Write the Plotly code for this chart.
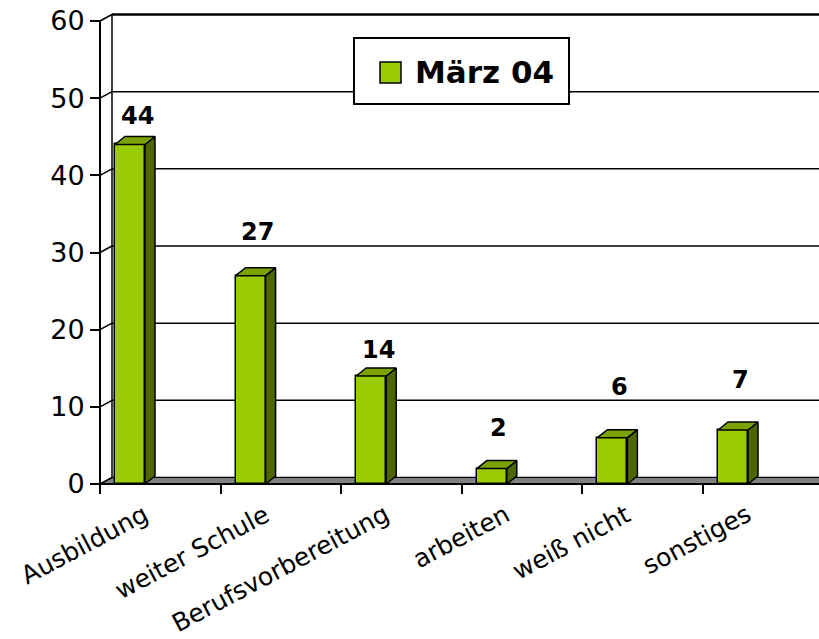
import plotly.graph_objects as go

# ---------------- data ----------------
categories = ["Ausbildung", "weiter Schule", "Berufsvorbereitung", "arbeiten", "weiß nicht", "sonstiges"]
values = [44, 27, 14, 2, 6, 7]
series_name = "März 04"
y_ticks = [0, 10, 20, 30, 40, 50, 60]

# ---------------- style ----------------
label_lift_px = [28, 44, 26, 41, 51, 50]   # data-label distance above bar top (px)
FRONT = "#99CC00"
TOP = "#7AA300"
SIDE = "#4D6600"
FLOOR = "#808080"
FONT = "DejaVu Sans"

W, H = 819, 639
L, R, T, B = 90, 0, 5, 149
plot_w = W - L - R
plot_h = H - T - B
PX_PER_CAT = 120.6
PX_PER_UNIT = 463.0 / 60.0
X0_PX = 100     # pixel of front-left corner (x = -0.5)
Y0_PX = 484     # pixel of value 0
x_range = [-0.5 - (X0_PX - L) / PX_PER_CAT, -0.5 + (W - R - X0_PX) / PX_PER_CAT]
y_range = [-(H - B - Y0_PX) / PX_PER_UNIT, (Y0_PX - T) / PX_PER_UNIT]


def ddx(px):
    return px / PX_PER_CAT


def ddy(px):
    return px / PX_PER_UNIT


def paper_x(px):
    return (px - L) / plot_w


def paper_y(py):
    return (H - B - py) / plot_h


wdx, wdy = ddx(12), ddy(6.5)    # wall depth
bdx, bdy = ddx(10), ddy(8)      # bar depth
bar_off, bar_w = ddx(15), ddx(30)

fig = go.Figure()

# front faces
fig.add_trace(go.Bar(
    x=list(range(len(categories))), y=values,
    width=bar_w, offset=bar_off - 0.5,
    marker=dict(color=FRONT, line=dict(color="black", width=1.5)),
    showlegend=False, hoverinfo="skip",
))

# side & top faces
for i, v in enumerate(values):
    xl = i - 0.5 + bar_off
    xr = xl + bar_w
    fig.add_trace(go.Scatter(
        x=[xr, xr, xr + bdx, xr + bdx, xr], y=[0, v, v + bdy, bdy, 0],
        fill="toself", fillcolor=SIDE, mode="lines",
        line=dict(color="black", width=1.5), showlegend=False, hoverinfo="skip"))
    fig.add_trace(go.Scatter(
        x=[xl, xr, xr + bdx, xl + bdx, xl], y=[v, v, v + bdy, v + bdy, v],
        fill="toself", fillcolor=TOP, mode="lines",
        line=dict(color="black", width=1.5), showlegend=False, hoverinfo="skip"))

shapes = []
xb = -0.5 + wdx
xfar = x_range[1] + 1
# back wall gridlines
for t in y_ticks:
    shapes.append(dict(type="line", xref="x", yref="y", layer="below",
                       x0=xb, x1=xfar, y0=t + wdy, y1=t + wdy,
                       line=dict(color="black", width=2.5 if t == y_ticks[-1] else 1.5)))
# floor
shapes.append(dict(type="path", xref="x", yref="y", layer="below",
                   path=f"M {-0.5},0 L {xfar},0 L {xfar + wdx},{wdy} L {xb},{wdy} Z",
                   fillcolor=FLOOR, line=dict(color="black", width=1)))
shapes.append(dict(type="line", xref="x", yref="y", layer="below",
                   x0=-0.5, x1=xfar, y0=0, y1=0, line=dict(color="black", width=2)))
# side wall diagonals
for t in y_ticks:
    shapes.append(dict(type="line", xref="x", yref="y", layer="below",
                       x0=-0.5, x1=xb, y0=t, y1=t + wdy,
                       line=dict(color="black", width=1.5)))
# back wall left edge and front value axis line
shapes.append(dict(type="line", xref="x", yref="y", layer="below",
                   x0=xb, x1=xb, y0=wdy, y1=y_ticks[-1] + wdy,
                   line=dict(color="black", width=1.5)))
shapes.append(dict(type="line", xref="x", yref="y", layer="below",
                   x0=-0.5, x1=-0.5, y0=0, y1=y_ticks[-1],
                   line=dict(color="black", width=2)))

# legend (manual)
shapes.append(dict(type="rect", xref="paper", yref="paper", layer="above",
                   x0=paper_x(354), x1=paper_x(569), y0=paper_y(104), y1=paper_y(38),
                   fillcolor="white", line=dict(color="black", width=2)))
shapes.append(dict(type="rect", xref="paper", yref="paper", layer="above",
                   x0=paper_x(380), x1=paper_x(401), y0=paper_y(83), y1=paper_y(62),
                   fillcolor=FRONT, line=dict(color="black", width=1.5)))

annotations = []
annotations.append(dict(xref="paper", yref="paper", x=paper_x(413), y=paper_y(72),
                        text=f"<b>{series_name}</b>", showarrow=False,
                        xanchor="left", yanchor="middle",
                        font=dict(family=FONT, size=31, color="black")))
# data labels
for i, v in enumerate(values):
    annotations.append(dict(xref="x", yref="y", x=i - 0.5 + bar_off + bar_w / 2 + ddx(7), y=v,
                            yshift=label_lift_px[i], text=f"<b>{v}</b>", showarrow=False,
                            xanchor="center", yanchor="middle",
                            font=dict(family=FONT, size=24, color="black")))
# category labels
for i, c in enumerate(categories):
    annotations.append(dict(xref="x", yref="y", x=i, y=0, xshift=-6, yshift=-14,
                            text=c, showarrow=False, textangle=-28, borderpad=0,
                            xanchor="right", yanchor="top",
                            font=dict(family=FONT, size=25, color="black")))

fig.update_layout(
    width=W, height=H,
    margin=dict(l=L, r=R, t=T, b=B, pad=0),
    paper_bgcolor="white", plot_bgcolor="white",
    showlegend=False,
    shapes=shapes, annotations=annotations,
    bargap=0,
    xaxis=dict(range=x_range, tickvals=[k - 0.5 for k in range(len(categories) + 1)],
               ticks="outside", ticklen=9, tickwidth=2, tickcolor="black",
               showticklabels=False, showgrid=False, zeroline=False, showline=False,
               anchor="free", position=paper_y(Y0_PX), fixedrange=True),
    yaxis=dict(range=y_range, tickvals=y_ticks,
               ticks="outside", ticklen=10, tickwidth=2, tickcolor="black",
               tickfont=dict(family=FONT, size=27, color="black"),
               showgrid=False, zeroline=False, showline=False,
               anchor="free", position=paper_x(X0_PX), fixedrange=True),
)

fig.write_html("out.html",
               config={"displayModeBar": False},
               post_script="document.body.style.margin='0';document.body.style.overflow='hidden';")
